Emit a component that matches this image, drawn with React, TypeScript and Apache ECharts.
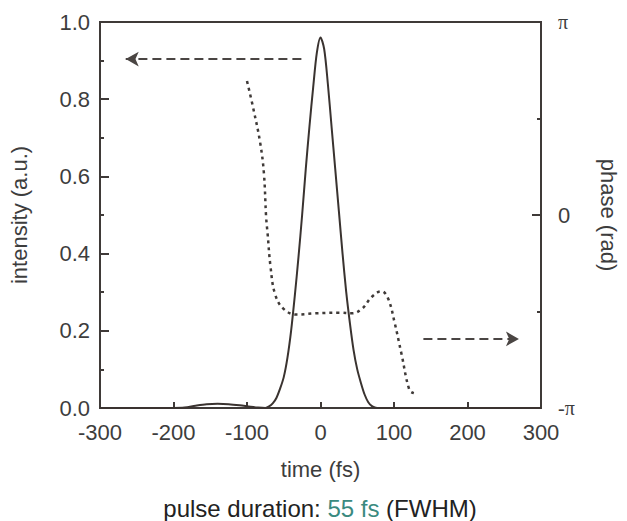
import React, { useEffect, useRef } from "react";
import * as echarts from "echarts";

// Intensity (a.u.) vs time (fs)
const intensityTime = [-300, -250, -200, -185, -170, -155, -140, -125, -110, -95, -85, -75, -70, -65, -60, -55, -50, -45, -40, -35, -30, -25, -20, -15, -10, -5, 0, 5, 10, 15, 20, 25, 30, 35, 40, 45, 50, 55, 60, 65, 70, 75, 80, 120, 200, 300];
const intensityValues = [0, 0, 0, 0.001, 0.006, 0.01, 0.011, 0.01, 0.007, 0.003, 0.001, 0, 0.004, 0.012, 0.026, 0.05, 0.08, 0.13, 0.2, 0.29, 0.39, 0.5, 0.62, 0.73, 0.83, 0.92, 0.96, 0.93, 0.84, 0.73, 0.62, 0.51, 0.4, 0.3, 0.22, 0.15, 0.1, 0.065, 0.035, 0.015, 0.005, 0.001, 0, 0, 0, 0];

// Phase (rad) vs time (fs)
const phaseTime = [-100, -91, -82, -77, -74, -72, -68, -62, -51, -33, -6, 25, 43, 57, 70, 83, 92, 101, 110, 121, 127];
const phaseValues = [2.18, 1.71, 1.17, 0.68, -0.03, -0.3, -0.84, -1.28, -1.52, -1.62, -1.6, -1.59, -1.6, -1.52, -1.33, -1.24, -1.36, -1.76, -2.25, -2.85, -2.9];

const xTicks = [-300, -200, -100, 0, 100, 200, 300];

// arrows (data coords on intensity axis)
const leftArrow = { fromX: -26, toX: -265, y: 0.904 };
const rightArrow = { fromX: 140, toX: 270, y: 0.179 };

const FONT = "Liberation Sans, Arial, sans-serif";
const TEXT = "#3d3d3d";
const AXIS = "#3f3a38";

export default function App() {
  const ref = useRef<HTMLDivElement>(null);
  useEffect(() => {
    if (!ref.current) return;
    const chart = echarts.init(ref.current, undefined, { renderer: "svg" });
    const axisLineStyle = { onZero: false, lineStyle: { color: AXIS, width: 2 } };
    chart.setOption({
      animation: false,
      backgroundColor: "#ffffff",
      grid: {
        left: 97,
        right: 82,
        top: 22,
        bottom: 113,
        show: true,
        borderColor: AXIS,
        borderWidth: 2,
        backgroundColor: "transparent",
      },
      xAxis: {
        type: "value",
        min: xTicks[0],
        max: xTicks[xTicks.length - 1],
        interval: 100,
        axisLine: axisLineStyle,
        axisTick: { inside: true, length: 6, lineStyle: { color: AXIS, width: 2 } },
        splitLine: { show: false },
        axisLabel: { color: TEXT, fontSize: 22, fontFamily: FONT, margin: 13 },
        name: "time (fs)",
        nameLocation: "middle",
        nameGap: 50,
        nameTextStyle: { color: TEXT, fontSize: 22, fontFamily: FONT },
      },
      yAxis: [
        {
          type: "value",
          min: 0,
          max: 1,
          interval: 0.2,
          axisLine: { show: true, ...axisLineStyle },
          axisTick: { show: true, inside: true, length: 9, lineStyle: { color: AXIS, width: 2 } },
          minorTick: { show: true, splitNumber: 2, length: 4, lineStyle: { color: AXIS, width: 2 } },
          splitLine: { show: false },
          axisLabel: {
            color: TEXT,
            fontSize: 22,
            fontFamily: FONT,
            margin: 10,
            formatter: (v: number) => v.toFixed(1),
          },
          name: "intensity (a.u.)",
          nameLocation: "middle",
          nameGap: 70,
          nameTextStyle: { color: TEXT, fontSize: 22, fontFamily: FONT },
        },
        {
          type: "value",
          position: "right",
          min: -Math.PI,
          max: Math.PI,
          interval: Math.PI,
          axisLine: { show: true, ...axisLineStyle },
          axisTick: { show: true, inside: true, length: 9, lineStyle: { color: AXIS, width: 2 } },
          minorTick: { show: true, splitNumber: 2, length: 4, lineStyle: { color: AXIS, width: 2 } },
          splitLine: { show: false },
          axisLabel: {
            color: TEXT,
            fontSize: 22,
            fontFamily: FONT,
            margin: 17,
            formatter: (v: number) => {
              if (Math.abs(v) < 1e-6) return "0";
              return v > 0 ? "{pi|π}" : "{pi|-π}";
            },
            rich: {
              pi: { fontFamily: "Liberation Serif, DejaVu Serif, serif", fontSize: 20, color: TEXT },
            },
          },
          name: "phase (rad)",
          nameLocation: "middle",
          nameRotate: -90,
          nameGap: 56,
          nameTextStyle: { color: TEXT, fontSize: 22, fontFamily: FONT },
        },
      ],
      series: [
        {
          name: "intensity",
          type: "line",
          yAxisIndex: 0,
          data: intensityTime.map((t, i) => [t, intensityValues[i]]),
          smooth: 0.3,
          showSymbol: false,
          lineStyle: { color: "#3a3330", width: 2 },
          markLine: {
            silent: true,
            symbol: ["none", "arrow"],
            symbolSize: [11, 13],
            label: { show: false },
            lineStyle: { color: "#4a4543", width: 2, type: [9, 5] },
            data: [
              [
                { coord: [leftArrow.fromX, leftArrow.y] },
                { coord: [leftArrow.toX, leftArrow.y] },
              ],
              [
                { coord: [rightArrow.fromX, rightArrow.y] },
                { coord: [rightArrow.toX, rightArrow.y] },
              ],
            ],
          },
        },
        {
          name: "phase",
          type: "line",
          yAxisIndex: 1,
          data: phaseTime.map((t, i) => [t, phaseValues[i]]),
          smooth: 0.4,
          showSymbol: false,
          lineStyle: { color: "#3f3a38", width: 2.5, type: [3, 4] },
        },
      ],
      graphic: [
        {
          type: "text",
          x: 320,
          y: 508,
          style: {
            text: "{a|pulse duration: }{b|55 fs}{a| (FWHM)}",
            align: "center",
            verticalAlign: "middle",
            rich: {
              a: { fontSize: 24, fontFamily: FONT, fill: "#222222", color: "#222222" },
              b: { fontSize: 24, fontFamily: FONT, fill: "#3a8a80", color: "#3a8a80" },
            },
          },
        },
      ],
    });
    return () => chart.dispose();
  }, []);
  return (
    <div
      ref={ref}
      style={{ position: "fixed", left: 0, top: 0, width: 627, height: 521 }}
    />
  );
}
